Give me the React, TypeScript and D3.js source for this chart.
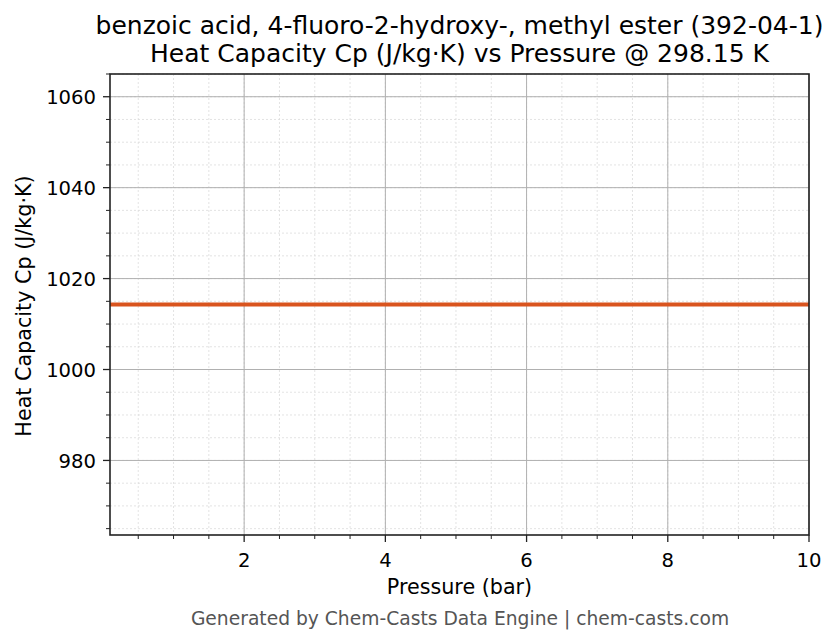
import React from "react";
import * as d3 from "d3";

const pressures = [0.1, 1, 2, 3, 4, 5, 6, 7, 8, 9, 10];
const cpValues = [1014.3, 1014.3, 1014.3, 1014.3, 1014.3, 1014.3, 1014.3, 1014.3, 1014.3, 1014.3, 1014.3];
const xTicks = [2, 4, 6, 8, 10];
const yTicks = [980, 1000, 1020, 1040, 1060];
const titleLines = [
  "benzoic acid, 4-fluoro-2-hydroxy-, methyl ester (392-04-1)",
  "Heat Capacity Cp (J/kg·K) vs Pressure @ 298.15 K",
];

const W = 839, H = 644;
const L = 110, R = 809, T = 74, B = 535;
const FONT = "'DejaVu Sans', sans-serif";

export default function App() {
  const x = d3.scaleLinear().domain([0.1, 10]).range([L, R]);
  const y = d3.scaleLinear().domain([963.6, 1065.0]).range([B, T]);
  const xMinor = d3.range(0.5, 10.01, 0.5).filter((v) => v >= 0.1);
  const yMinor = d3.range(965, 1065.01, 5);
  const line = d3.line<number>().x((_, i) => x(pressures[i])).y((d) => y(d));
  return (
    <svg width={W} height={H} style={{ position: "absolute", left: 0, top: 0, background: "#fff" }} fontFamily={FONT}>
      <rect width={W} height={H} fill="#fff" />
      {xMinor.map((v) => (
        <line key={"xm" + v} x1={x(v)} x2={x(v)} y1={T} y2={B} stroke="#dcdcdc" strokeWidth={0.8} strokeDasharray="2,2" />
      ))}
      {yMinor.map((v) => (
        <line key={"ym" + v} x1={L} x2={R} y1={y(v)} y2={y(v)} stroke="#dcdcdc" strokeWidth={0.8} strokeDasharray="2,2" />
      ))}
      {xTicks.map((v) => (
        <line key={"xg" + v} x1={x(v)} x2={x(v)} y1={T} y2={B} stroke="#b0b0b0" strokeWidth={1} />
      ))}
      {yTicks.map((v) => (
        <line key={"yg" + v} x1={L} x2={R} y1={y(v)} y2={y(v)} stroke="#b0b0b0" strokeWidth={1} />
      ))}
      <path d={line(cpValues) || ""} fill="none" stroke="#D9541E" strokeWidth={3.8} />
      <rect x={L} y={T} width={R - L} height={B - T} fill="none" stroke="#222" strokeWidth={1.6} />
      {xTicks.map((v) => (
        <g key={"xt" + v}>
          <line x1={x(v)} x2={x(v)} y1={B} y2={B + 7} stroke="#222" strokeWidth={1.3} />
          <text x={x(v)} y={567} textAnchor="middle" fontSize={19.6} fill="#000">{v}</text>
        </g>
      ))}
      {xMinor.filter((v) => !xTicks.includes(v)).map((v) => (
        <line key={"xmt" + v} x1={x(v)} x2={x(v)} y1={B} y2={B + 4} stroke="#222" strokeWidth={1} />
      ))}
      {yTicks.map((v) => (
        <g key={"yt" + v}>
          <line x1={L - 7} x2={L} y1={y(v)} y2={y(v)} stroke="#222" strokeWidth={1.3} />
          <text x={96} y={y(v) + 7.3} textAnchor="end" fontSize={19.6} fill="#000">{v}</text>
        </g>
      ))}
      {yMinor.filter((v) => !yTicks.includes(v)).map((v) => (
        <line key={"ymt" + v} x1={L - 4} x2={L} y1={y(v)} y2={y(v)} stroke="#222" strokeWidth={1} />
      ))}
      <text x={(L + R) / 2} y={594} textAnchor="middle" fontSize={20.7} fill="#000">Pressure (bar)</text>
      <text transform={`translate(31,306) rotate(-90)`} textAnchor="middle" fontSize={20.7} fill="#000">Heat Capacity Cp (J/kg·K)</text>
      {titleLines.map((t, i) => (
        <text key={t} x={(L + R) / 2} y={34 + i * 28} textAnchor="middle" fontSize={25} fill="#000">{t}</text>
      ))}
      <text x={460} y={625} textAnchor="middle" fontSize={18.7} fill="#555">Generated by Chem-Casts Data Engine | chem-casts.com</text>
    </svg>
  );
}
